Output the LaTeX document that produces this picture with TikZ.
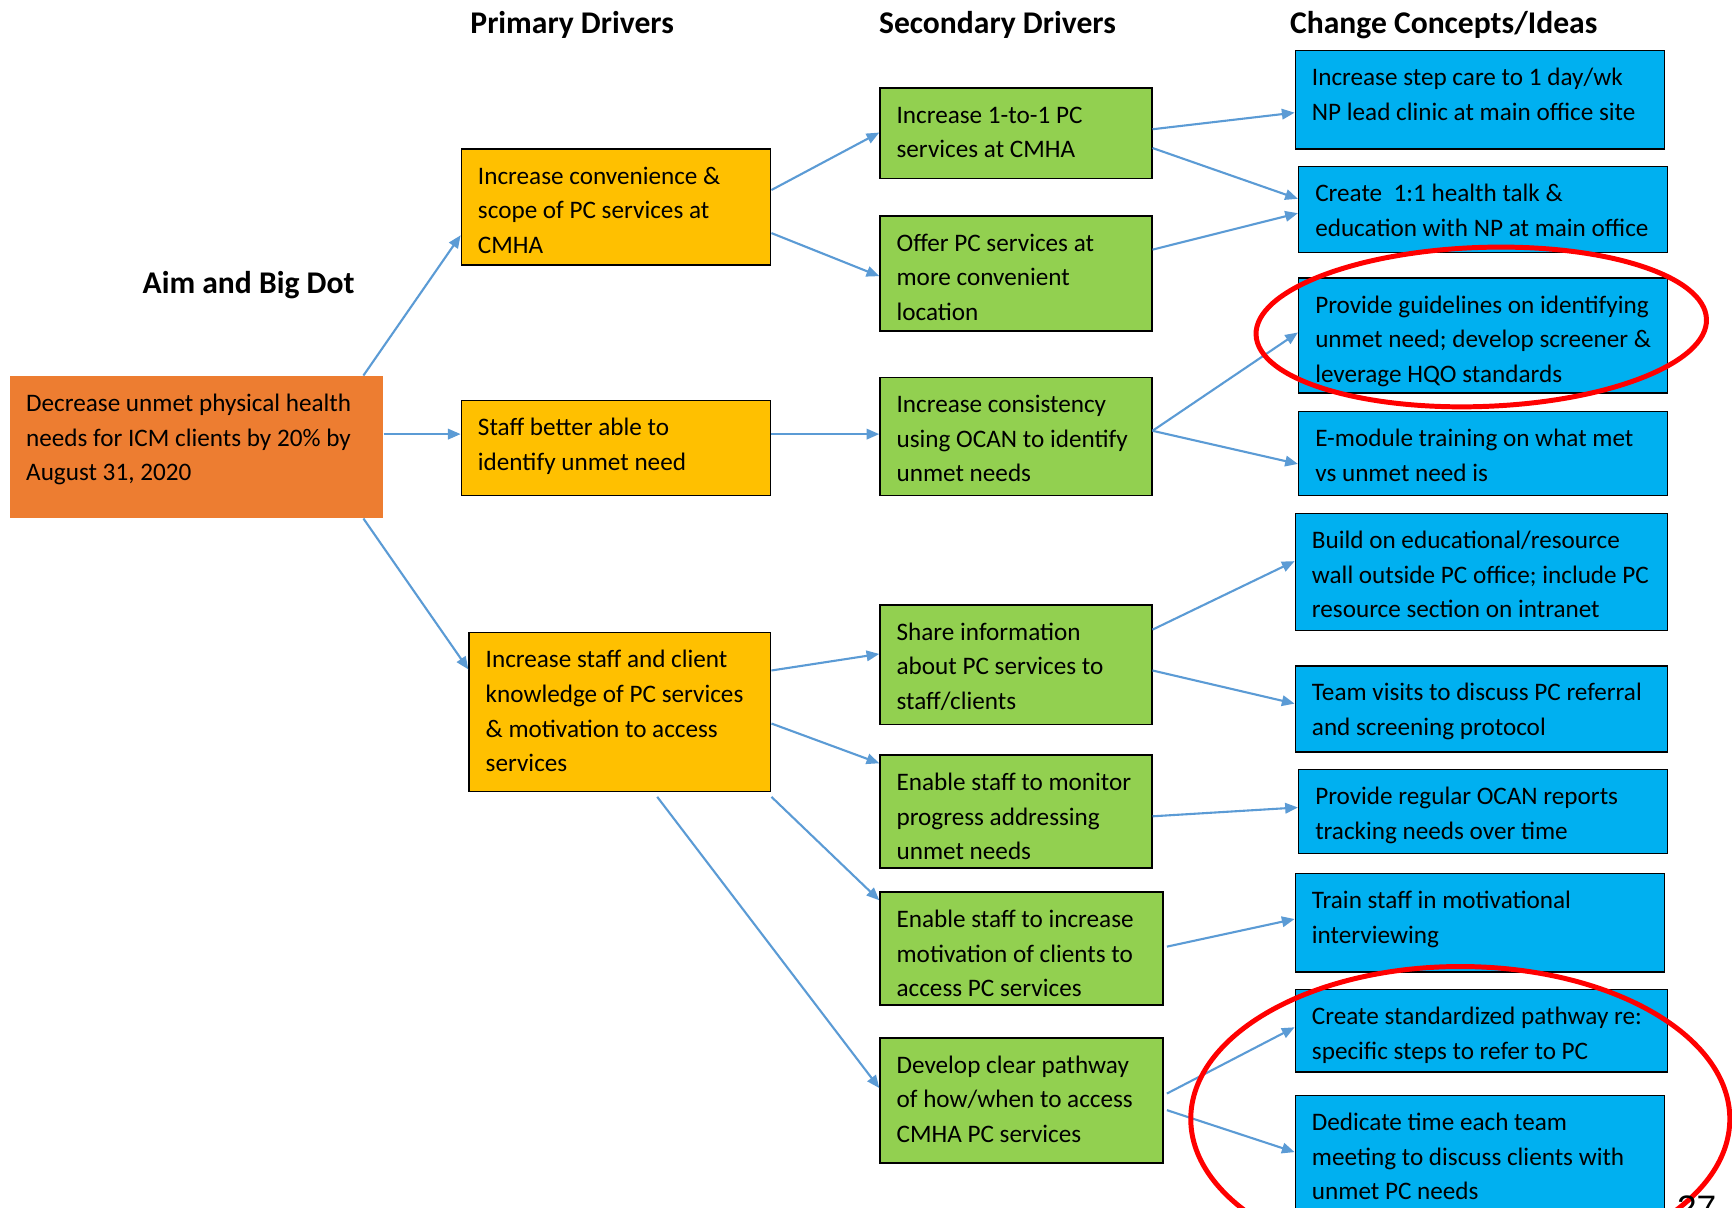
\documentclass[tikz,border=0pt]{standalone}
\usepackage{fontspec}
\setmainfont{Carlito}
\newfontfamily\pagenumfont{Liberation Sans}
\usetikzlibrary{arrows.meta}

\definecolor{aimorange}{HTML}{ED7D31}
\definecolor{primgold}{HTML}{FFC000}
\definecolor{secgreen}{HTML}{92D050}
\definecolor{ideablue}{HTML}{00B0F0}
\definecolor{linkblue}{HTML}{5B9BD5}
\definecolor{markred}{HTML}{FF0000}

\tikzset{
  x=1bp, y=-1bp,
  header/.style={font=\fontsize{28.6bp}{34bp}\selectfont\bfseries, inner sep=0pt, anchor=base},
  cell/.style={rectangle, inner sep=0pt, line width=1.4bp},
  aimcell/.style={cell, fill=aimorange, draw=none},
  primcell/.style={cell, fill=primgold, draw=black},
  seccell/.style={cell, fill=secgreen, draw=black},
  ideacell/.style={cell, fill=ideablue, draw=black},
  celltext/.style={font=\fontsize{22.8bp}{31.3bp}\selectfont, align=left, inner sep=0pt, anchor=north west},
  link/.style={draw=linkblue, line width=1.9bp, -{Triangle[length=11.5bp,width=9.5bp]}},
  ring/.style={draw=markred, line width=4.5bp},
}

% name, style, left, top, right, bottom, text
\newcommand\drvbox[7]{%
  \node[#2, anchor=north west, minimum width=#5bp-#3bp, minimum height=#6bp-#4bp] (#1) at (#3,#4) {};
  \node[celltext] (#1t) at ([shift={(15.5,10.5)}]#1.north west) {\strut #7};
}

\begin{document}
\begin{tikzpicture}
\clip (0,0) rectangle (1568,1093);
\fill[white] (0,0) rectangle (1568,1093);

% column headings
\node[header] (hprim) at (518,30) {Primary Drivers};
\node[header] (hsec) at (903,30) {Secondary Drivers};
\node[header] (hidea) at (1307,30) {Change Concepts/Ideas};
\node[header] (haim) at (225,266) {Aim and Big Dot};

% aim
\drvbox{aim}{aimcell}{8}{340}{346}{468}{Decrease unmet physical health\\needs for ICM clients by 20\% by\\August 31, 2020}

% primary drivers
\drvbox{p1}{primcell}{417}{134}{697}{239}{Increase convenience \&\\scope of PC services at\\CMHA}
\drvbox{p2}{primcell}{417}{362}{697}{448}{Staff better able to\\identify unmet need}
\drvbox{p3}{primcell}{424}{572}{697}{716}{Increase staff and client\\knowledge of PC services\\\& motivation to access\\services}

% secondary drivers
\drvbox{s1}{seccell}{796}{79}{1042}{161}{Increase 1-to-1 PC\\services at CMHA}
\drvbox{s2}{seccell}{796}{195}{1042}{299}{Offer PC services at\\more convenient\\location}
\drvbox{s3}{seccell}{796}{341}{1042}{448}{Increase consistency\\using OCAN to identify\\unmet needs}
\drvbox{s4}{seccell}{796}{547}{1042}{655}{Share information\\about PC services to\\staff/clients}
\drvbox{s5}{seccell}{796}{683}{1042}{785}{Enable staff to monitor\\progress addressing\\unmet needs}
\drvbox{s6}{seccell}{796}{807}{1052}{909}{Enable staff to increase\\motivation of clients to\\access PC services}
\drvbox{s7}{seccell}{796}{939}{1052}{1052}{Develop clear pathway\\of how/when to access\\CMHA PC services}

% change concepts / ideas
\drvbox{c1}{ideacell}{1172}{45}{1506}{134}{Increase step care to 1 day/wk\\NP lead clinic at main office site}
\drvbox{c2}{ideacell}{1175}{150}{1509}{228}{Create\ \ 1:1 health talk \&\\education with NP at main office}
\drvbox{c3}{ideacell}{1175}{251}{1509}{355}{Provide guidelines on identifying\\unmet need; develop screener \&\\leverage HQO standards}
\drvbox{c4}{ideacell}{1175}{372}{1509}{448}{E-module training on what met\\vs unmet need is}
\drvbox{c5}{ideacell}{1172}{464}{1509}{570}{Build on educational/resource\\wall outside PC office; include PC\\resource section on intranet}
\drvbox{c6}{ideacell}{1172}{602}{1509}{680}{Team visits to discuss PC referral\\and screening protocol}
\drvbox{c7}{ideacell}{1175}{696}{1509}{772}{Provide regular OCAN reports\\tracking needs over time}
\drvbox{c8}{ideacell}{1172}{790}{1506}{879}{Train staff in motivational\\interviewing}
\drvbox{c9}{ideacell}{1172}{895}{1509}{970}{Create standardized pathway re:\\specific steps to refer to PC}
\drvbox{c10}{ideacell}{1172}{991}{1506}{1098}{Dedicate time each team\\meeting to discuss clients with\\unmet PC needs}

% aim -> primary drivers
\draw[link] (aim.north -| 329,0) -- (p1.west |- 0,213);
\draw[link] (aim.east |- 0,393) -- (p2.west |- 0,393);
\draw[link] (aim.south -| 329,0) -- (p3.west |- 0,606);

% primary -> secondary drivers
\draw[link] (p1.east |- 0,172) -- (s1.west |- 0,120);
\draw[link] (p1.east |- 0,211) -- (s2.west |- 0,250);
\draw[link] (p2.east |- 0,393) -- (s3.west |- 0,393);
\draw[link] (p3.east |- 0,607) -- (s4.west |- 0,592);
\draw[link] (p3.east |- 0,655) -- (s5.west |- 0,691);
\draw[link] ([shift={(0,4)}]p3.south east) -- (s6.west |- 0,815);
\draw[link] ([shift={(0,4)}]p3.south -| 595,0) -- (s7.west |- 0,985);

% secondary drivers -> change ideas
\draw[link] (s1.east |- 0,117) -- (c1.west |- 0,102);
\draw[link] (s1.east |- 0,134) -- (c2.west |- 0,180);
\draw[link] (s2.east |- 0,226) -- (c2.west |- 0,193);
\draw[link] (s3.east |- 0,390) -- (c3.west |- 0,301);
\draw[link] (s3.east |- 0,390) -- (c4.west |- 0,420);
\draw[link] (s4.east |- 0,570) -- (c5.west |- 0,508);
\draw[link] (s4.east |- 0,607) -- (c6.west |- 0,637);
\draw[link] (s5.east |- 0,739) -- (c7.west |- 0,731);
\draw[link] ([xshift=3]s6.east |- 0,857) -- (c8.west |- 0,832);
\draw[link] ([xshift=3]s7.east |- 0,990) -- (c9.west |- 0,930);
\draw[link] ([xshift=3]s7.east |- 0,1005) -- (c10.west |- 0,1043);

% highlight rings
\draw[ring] (1341,296) ellipse [x radius=204, y radius=72, rotate=2];
\draw[ring] (1322,1013) ellipse [x radius=244, y radius=138];

% page number
\node[font=\pagenumfont\fontsize{32bp}{36bp}\selectfont, inner sep=0pt, anchor=north west] (pnum) at (1518,1082) {27};
\end{tikzpicture}
\end{document}
